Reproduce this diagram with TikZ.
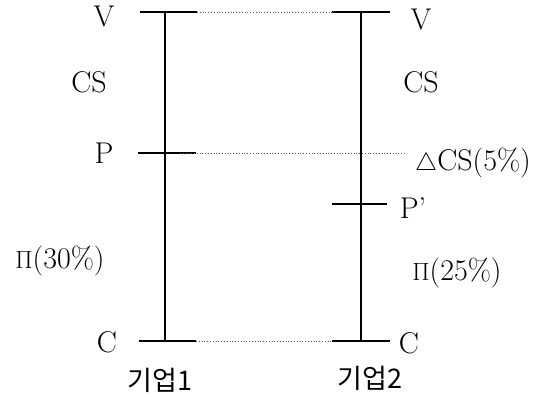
\documentclass[tikz,border=0pt]{standalone}
\usepackage{fontspec}
\newfontfamily\krfont{Noto Sans CJK KR}
\usepackage{tikz}
\usetikzlibrary{positioning}

\begin{document}
\begin{tikzpicture}[x=1pt, y=-1pt, font=\fontsize{30}{36}\selectfont,
      axis/.style={line width=1.3pt},
      tick/.style={line width=1.6pt},
      guide/.style={dotted, line width=0.8pt, gray!70!black},
      lbl/.style={inner sep=0pt, anchor=center},
      firm/.style={lbl, font=\fontsize{27}{32}\selectfont\krfont}]
    \useasboundingbox (0,0) rectangle (535,396);
    % firm 1
    \coordinate (v1) at (165,12);
    \coordinate (p1) at (165,153);
    \coordinate (c1) at (165,341);
    \coordinate (v1l) at (140,12);  \coordinate (v1r) at (197,12);
    \coordinate (p1l) at (138,153); \coordinate (p1r) at (196,153);
    \coordinate (c1l) at (139,341); \coordinate (c1r) at (196,341);
    \draw[axis] (v1) -- (c1);
    \draw[tick] (v1l) -- (v1r);
    \draw[tick] (p1l) -- (p1r);
    \draw[tick] (c1l) -- (c1r);
    \node[lbl] (lv1) at (104,16) {V};
    \node[lbl] (lcs1) at (89,82) {CS};
    \node[lbl] (lp1) at (104,153) {P};
    \node[lbl] (lpi1) at (60,261) {$\Pi$(30\%)};
    \node[lbl] (lc1) at (107,342) {C};
    \node[firm] (f1) at (160,380) {기업1};
    % firm 2
    \coordinate (v2) at (361,12);
    \coordinate (q2) at (361,204);
    \coordinate (c2) at (361,341);
    \coordinate (v2l) at (332,12);  \coordinate (v2r) at (390,12);
    \coordinate (q2l) at (332,204); \coordinate (q2r) at (387,204);
    \coordinate (c2l) at (332,341); \coordinate (c2r) at (390,341);
    \draw[axis] (v2) -- (c2);
    \draw[tick] (v2l) -- (v2r);
    \draw[tick] (q2l) -- (q2r);
    \draw[tick] (c2l) -- (c2r);
    \node[lbl] (lv2) at (421,19) {V};
    \node[lbl] (lcs2) at (421,82) {CS};
    \node[lbl] (ldcs) at (473,163) {$\triangle$CS(5\%)};
    \node[lbl] (lp2) at (413,208) {P'};
    \node[lbl] (lpi2) at (457,273) {$\Pi$(25\%)};
    \node[lbl] (lc2) at (409,343) {C};
    \node[firm] (f2) at (370,378) {기업2};
    % guides
    \coordinate (pg) at (405,153);
    \coordinate (pgs) at (180,153);
    \draw[guide] (v1r) -- (v2l);
    \draw[guide] (pgs) -- (pg);
    \draw[guide] (c1r) -- (c2l);
\end{tikzpicture}
\end{document}
